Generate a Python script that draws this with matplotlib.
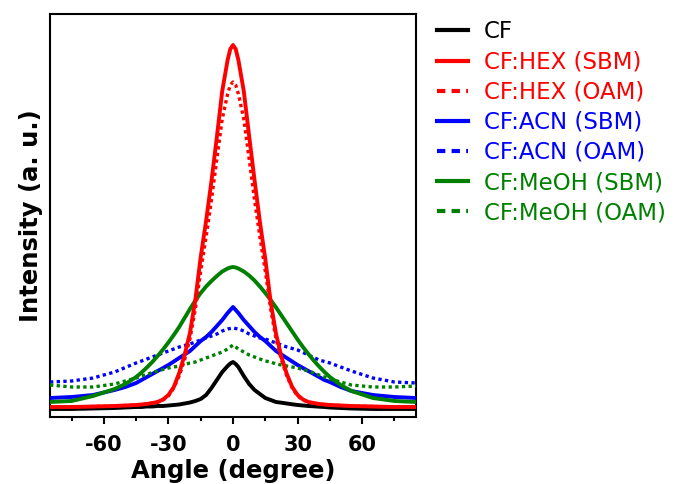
import numpy as np
import matplotlib
matplotlib.use("Agg")
import matplotlib.pyplot as plt

plt.rcParams['font.family'] = ['DejaVu Sans']
plt.rcParams['axes.unicode_minus'] = False

# angle grid (degree) (a. u.)
angle = [-85, -75, -65, -55, -50, -45, -42.5, -40, -37.5, -35, -32.5, -30, -27.5, -25, -22.5,
         -20, -17.5, -15, -12.5, -10, -7.5, -5, -2.5, -1.25, 0,
         1.25, 2.5, 5, 7.5, 10, 12.5, 15, 17.5, 20, 22.5, 25, 27.5, 30, 32.5, 35, 37.5,
         40, 42.5, 45, 50, 55, 65, 75, 85]

cf = [8, 8, 8.5, 9, 9.5, 10, 10, 10.5, 10.5, 11, 11, 11.5, 12, 12.5, 13.5,
      14.5, 16, 18, 22, 29, 37, 45, 51, 53.5, 55,
      53, 50, 41, 33, 27, 23, 19, 17, 15, 14.3, 13.5, 12.7, 12, 11.5, 11, 10.7,
      10.3, 10, 9.5, 9, 8.5, 8, 8, 8]
hex_sbm = [10, 10, 10.5, 11, 11.5, 12, 12.5, 13, 14, 15, 17.5, 22, 30, 44, 62,
           84, 117, 160, 196, 236, 280, 326, 357, 368, 372,
           368, 357, 326, 281, 237, 195, 158, 115, 83, 60, 43, 30, 22, 17.5, 15, 14,
           13, 12.5, 12, 11.5, 11, 10.5, 10, 10]
hex_oam = [10, 10, 10.5, 11, 11.5, 12, 12.5, 13, 14, 15, 17, 21, 29, 41, 57,
           78, 108, 146, 180, 217, 258, 298, 323, 332, 335,
           332, 323, 298, 258, 217, 180, 146, 108, 78, 57, 41, 29, 21, 17, 15, 14,
           13, 12.5, 12, 11.5, 11, 10.5, 10, 10]
acn_sbm = [19, 20, 22, 27, 30, 34, 37, 40, 43, 46, 49, 52, 55.5, 59, 62.5,
           66, 71, 76, 80, 85, 91, 97, 104, 107, 110,
           107, 104, 97, 91, 85, 80, 76, 71, 66, 62.5, 59, 55.5, 52, 49, 46, 43,
           40, 37, 35, 30, 26, 22, 20, 19]
acn_oam = [35, 36, 39, 45, 49.5, 54, 56, 58, 60, 62, 64, 66, 68, 70, 71.5,
           73, 75, 77, 79, 81, 83, 86, 88, 88.5, 89,
           88.5, 88, 86, 83, 81, 79, 78, 76, 74, 72, 70, 68.5, 67, 64.5, 62, 59.5,
           57, 55.5, 54, 50, 46, 39, 35, 34]
meoh_sbm = [15, 16, 21, 28, 33, 40, 44.5, 49.5, 55, 61, 67.5, 74.5, 82, 90, 99,
            108, 116.5, 124, 130.5, 136, 141, 145.5, 148.5, 149.5, 150,
            149.5, 148.5, 145.5, 141.5, 136.5, 130.5, 124, 117, 109.5, 101.5, 93.5, 85.5,
            77.5, 70, 63, 56.5, 50.5, 45, 40, 32, 26, 19, 16, 15]
meoh_oam = [32, 30, 30, 33, 36, 39, 41, 42.5, 44.5, 46, 47.5, 49, 50, 51, 52.5,
            54, 55, 57, 59, 61, 63, 65, 68, 70, 72,
            70, 68, 65, 62, 60, 58, 56, 55, 53, 52, 51, 50, 49, 47.5, 46, 44,
            42, 40, 38, 35, 32, 30, 30, 31]

series = [
    ("CF", cf, "black", "-", 2),
    ("CF:HEX (SBM)", hex_sbm, "#ff0000", "-", 8),
    ("CF:HEX (OAM)", hex_oam, "#ff0000", ":", 7),
    ("CF:ACN (SBM)", acn_sbm, "#0000ff", "-", 3),
    ("CF:ACN (OAM)", acn_oam, "#0000ff", ":", 4),
    ("CF:MeOH (SBM)", meoh_sbm, "#008000", "-", 5),
    ("CF:MeOH (OAM)", meoh_oam, "#008000", ":", 6),
]

fig = plt.figure(figsize=(6.8, 4.84), dpi=100)
ax = fig.add_axes([50 / 680, 67 / 484, 366 / 680, 403 / 484])

for label, vals, color, ls, z in series:
    if ls == ":":
        ax.plot(angle, vals, color=color, lw=2.4, linestyle=(0, (1, 1)),
                dash_capstyle='butt', label=label, zorder=z)
    else:
        ax.plot(angle, vals, color=color, lw=2.8, label=label, zorder=z)

ax.set_xlim(-85, 85)
ax.set_ylim(0, 403)
ax.set_xticks([-60, -30, 0, 30, 60])
ax.set_xticks(np.arange(-75, 90, 15), minor=True)
ax.set_yticks([])
ax.tick_params(axis='x', which='major', direction='out', length=5, width=1.5,
               labelsize=15, pad=8)
ax.tick_params(axis='x', which='minor', direction='out', length=3, width=1.5)
for lab in ax.get_xticklabels():
    lab.set_fontweight('bold')
for sp in ax.spines.values():
    sp.set_linewidth(1.5)

ax.set_xlabel("Angle (degree)", fontsize=17.5, fontweight='bold', labelpad=3)
ax.set_ylabel("Intensity (a. u.)", fontsize=17.5, fontweight='bold', labelpad=5)

leg = fig.legend(loc='upper left', bbox_to_anchor=(437 / 680, 463.5 / 484),
                 frameon=False, fontsize=16.5, handlelength=1.35, handletextpad=0.7,
                 labelspacing=0.31, borderpad=0, borderaxespad=0)
for text, line in zip(leg.get_texts(), leg.get_lines()):
    text.set_color(line.get_color())
    line.set_linewidth(3)
    if line.get_linestyle() != '-':
        line.set_linestyle((0, (2, 1.5)))

fig.savefig("out.png", dpi=100)
